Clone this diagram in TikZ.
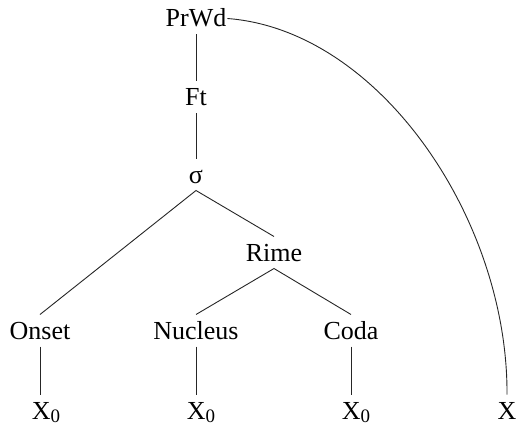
\documentclass[tikz,border=0pt]{standalone}
\usepackage{fontspec}
\setmainfont{Liberation Serif}
\newcommand{\xzero}{X\raisebox{-3pt}{\fontsize{19}{20}\selectfont 0}}
\begin{document}
\begin{tikzpicture}[x=1pt,y=-1pt,
  lbl/.style={anchor=base, font=\fontsize{26}{30}\selectfont, text height=17pt, text depth=0pt, inner xsep=1pt, inner ysep=7.5pt, outer sep=0pt},
  edge/.style={draw=black!85, line width=0.9pt}]
\useasboundingbox (0,0) rectangle (516,425);
\node[lbl] (prwd) at (196,27) {PrWd};
\node[lbl] (ft) at (196,106) {Ft};
\node[lbl] (syl) at (196,183) {σ};
\node[lbl] (rime) at (274,261) {Rime};
\node[lbl] (onset) at (40,339) {Onset};
\node[lbl] (nucleus) at (196,339) {Nucleus};
\node[lbl] (coda) at (351,339) {Coda};
\node[lbl] (x1) at (46,419) {\xzero};
\node[lbl] (x2) at (201,419) {\xzero};
\node[lbl] (x3) at (356,419) {\xzero};
\node[lbl] (x4) at (507,419) {X};
\draw[edge] (prwd.south) -- (ft.north);
\draw[edge] (ft.south) -- (syl.north);
\draw[edge] (onset.north) -- (syl.south) -- (rime.north);
\draw[edge] (nucleus.north) -- (rime.south) -- (coda.north);
\draw[edge] (onset.south) -- (onset.south |- x1.north);
\draw[edge] (nucleus.south) -- (nucleus.south |- x2.north);
\draw[edge] (coda.south) -- (coda.south |- x3.north);
\draw[edge] (prwd.east) .. controls (380,30) and (508,220) .. (x4.north);
\end{tikzpicture}
\end{document}
